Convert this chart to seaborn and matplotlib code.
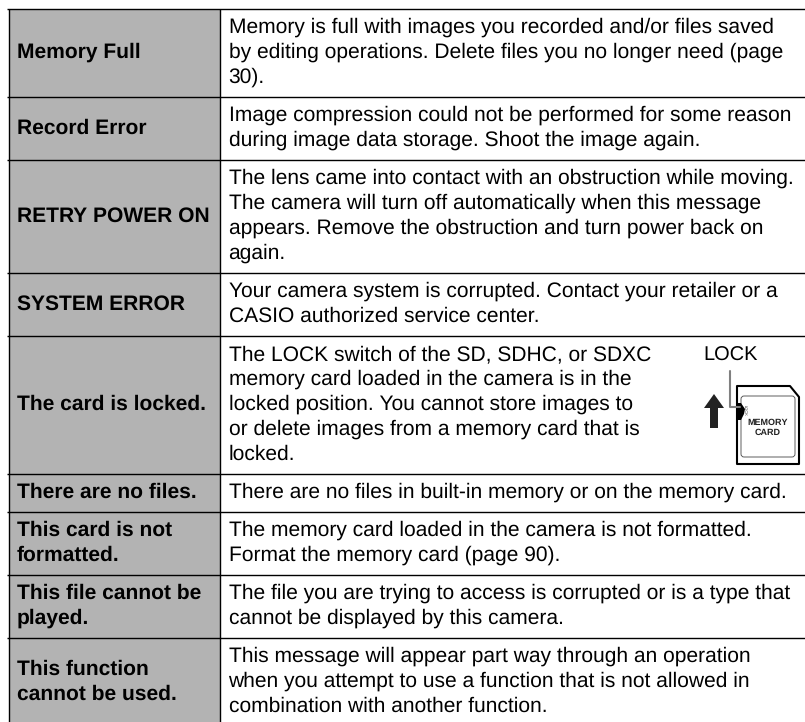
import numpy as np
import matplotlib
matplotlib.use('Agg')
import matplotlib.pyplot as plt
from matplotlib.patches import Polygon, FancyBboxPatch
import seaborn as sns

# table content
messages = ['Memory Full', 'Record Error', 'RETRY POWER ON', 'SYSTEM ERROR',
            'The card is locked.', 'There are no files.',
            'This card is not\nformatted.', 'This file cannot be\nplayed.',
            'This function\ncannot be used.']
details = [
    ['Memory is full with images you recorded and/or files saved',
     'by editing operations. Delete files you no longer need (page',
     '30).'],
    ['Image compression could not be performed for some reason',
     'during image data storage. Shoot the image again.'],
    ['The lens came into contact with an obstruction while moving.',
     'The camera will turn off automatically when this message',
     'appears. Remove the obstruction and turn power back on',
     'again.'],
    ['Your camera system is corrupted. Contact your retailer or a',
     'CASIO authorized service center.'],
    ['The LOCK switch of the SD, SDHC, or SDXC',
     'memory card loaded in the camera is in the',
     'locked position. You cannot store images to',
     'or delete images from a memory card that is',
     'locked.'],
    ['There are no files in built-in memory or on the memory card.'],
    ['The memory card loaded in the camera is not formatted.',
     'Format the memory card (page 90).'],
    ['The file you are trying to access is corrupted or is a type that',
     'cannot be displayed by this camera.'],
    ['This message will appear part way through an operation',
     'when you attempt to use a function that is not allowed in',
     'combination with another function.'],
]

W, H = 805, 722
TOP = 8.5
LEFT = 8.5
DIVIDER = 219.5
PITCH = 25.0
GRAY = '#b3b3b3'
BODY = 15.25

sns.set_theme(style='white')
plt.rcParams['font.family'] = ['Liberation Sans', 'DejaVu Sans']
plt.rcParams['text.hinting'] = 'no_hinting'
plt.rcParams['text.hinting_factor'] = 1

fig = plt.figure(figsize=(W / 100, H / 100), dpi=100)
fig.patch.set_facecolor('white')

# gray first column
ax_head = fig.add_axes([LEFT / W, 0, (DIVIDER - LEFT) / W, (H - TOP) / H])
sns.heatmap(np.zeros((1, 1)), cmap=[GRAY], cbar=False, xticklabels=False,
            yticklabels=False, ax=ax_head)

ax = fig.add_axes([0, 0, 1, 1], facecolor='none')
ax.set_xlim(0, W)
ax.set_ylim(H, 0)
ax.axis('off')

# row height follows the number of text lines
y = TOP
ax.hlines(y, 7, W, color='black', lw=1.0)
for name, lines in zip(messages, details):
    row_h = PITCH * len(lines) + 13
    mid = y + row_h / 2
    ax.text(16.5, mid, name, fontsize=BODY, fontweight='bold', va='center',
            ha='left', color='black', linespacing=1.37)
    for i, line in enumerate(lines):
        ty = mid + (i - (len(lines) - 1) / 2) * PITCH
        ax.text(228.5, ty, line, fontsize=BODY, va='center', ha='left', color='black')
    y += row_h
    if y < H - 1:
        ax.hlines(y, 7, W, color='black', lw=1.0)

ax.vlines([LEFT, DIVIDER], TOP, H, color='black', lw=1.0)

# memory card sketch
ax.text(730.5, 356, 'LOCK', fontsize=14.4, ha='center', va='center', color='black')
ax.add_patch(Polygon([(704, 408), (714, 394), (724, 408), (718, 408), (718, 428),
                      (710, 428), (710, 408)], closed=True, fc='#222222', ec='none'))
ax.add_patch(Polygon([(737, 386), (790, 386), (799, 397), (799, 464), (737, 464)],
                     closed=True, fc='white', ec='black', lw=1.5, joinstyle='round'))
ax.add_patch(FancyBboxPatch((741, 396), 54, 61, boxstyle='round,pad=0,rounding_size=3',
                            fc='white', ec='#444444', lw=0.6))
ax.plot([730, 730, 740], [371, 407, 407], color='#808080', lw=1.5)
ax.add_patch(Polygon([(737, 403), (741, 403), (745, 409), (744, 414), (741, 420), (737, 420)],
                     closed=True, fc='black', ec='none'))
ax.text(745, 410, 'LOCK', fontsize=2.8, rotation=-90, ha='center', va='center', color='#333333')
ax.text(768, 422.5, 'MEMORY', fontsize=6.7, fontweight='bold', ha='center', va='center', color='#222222')
ax.text(768, 432.5, 'CARD', fontsize=6.7, fontweight='bold', ha='center', va='center', color='#222222')

fig.savefig('out.png', dpi=100, facecolor='white')
